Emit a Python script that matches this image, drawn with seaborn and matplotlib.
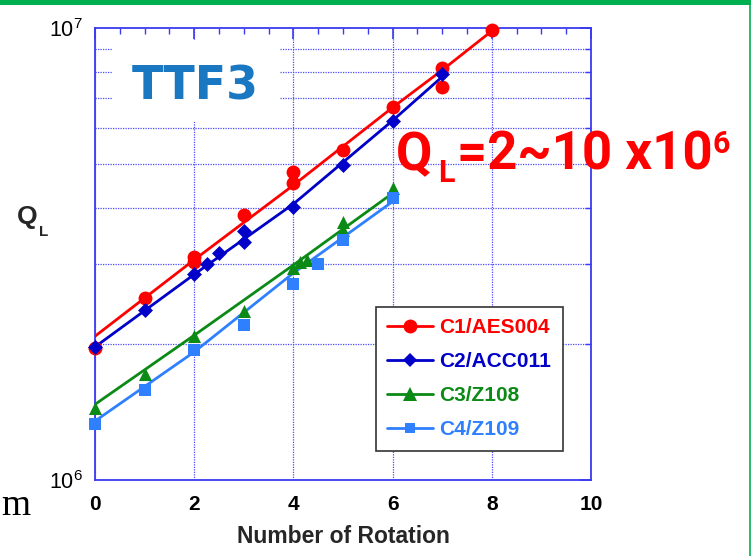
import numpy as np
import pandas as pd
import matplotlib
matplotlib.use("Agg")
import matplotlib.pyplot as plt
import seaborn as sns
from matplotlib.lines import Line2D
from matplotlib.patches import Rectangle
from matplotlib.ticker import FixedLocator, LogLocator, NullFormatter, MultipleLocator

# ---------------- data ----------------
series_names = ["C1/AES004", "C2/ACC011", "C3/Z108", "C4/Z109"]

c1_x = [0, 1, 2, 2, 3, 4, 4, 5, 6, 7, 7, 8]
c1_q = [1.96e6, 2.53e6, 3.12e6, 3.03e6, 3.85e6, 4.81e6, 4.55e6, 5.37e6, 6.70e6, 8.17e6, 7.41e6, 9.90e6]
c2_x = [0, 1, 2, 2.25, 2.5, 3, 3, 4, 5, 6, 7]
c2_q = [1.97e6, 2.38e6, 2.86e6, 3.00e6, 3.18e6, 3.55e6, 3.37e6, 4.02e6, 4.98e6, 6.24e6, 7.91e6]
c3_x = [0, 1, 2, 3, 4, 4.13, 4.27, 5, 5, 6]
c3_q = [1.44e6, 1.72e6, 2.08e6, 2.37e6, 2.95e6, 3.04e6, 3.07e6, 3.73e6, 3.57e6, 4.42e6]
c4_x = [0, 1, 2, 3, 4, 4.5, 5, 6]
c4_q = [1.33e6, 1.58e6, 1.94e6, 2.20e6, 2.72e6, 3.00e6, 3.40e6, 4.20e6]

# fitted trend lines
c1_fit_x = [0, 2, 4, 6, 7, 8]
c1_fit_q = [2.08e6, 3.07e6, 4.49e6, 6.67e6, 8.07e6, 9.85e6]
c2_fit_x = [0, 2, 4, 6, 7]
c2_fit_q = [1.97e6, 2.85e6, 4.08e6, 6.24e6, 7.80e6]
c3_fit_x = [0, 2, 4, 6]
c3_fit_q = [1.47e6, 2.09e6, 2.99e6, 4.31e6]
c4_fit_x = [0, 2, 4, 6]
c4_fit_q = [1.35e6, 1.92e6, 2.87e6, 4.13e6]

x_ticks = [0, 2, 4, 6, 8, 10]
y_ticks = [1e6, 1e7]

# ---------------- style ----------------
colors = ["#ff0000", "#0000c8", "#0b8a16", "#2f80ff"]
markers = ["o", "D", "^", "s"]
msizes = [100, 58, 88, 63]

sns.set_style("white")
plt.rcParams["font.family"] = ["Liberation Sans", "DejaVu Sans"]
plt.rcParams["mathtext.fontset"] = "custom"
plt.rcParams["mathtext.rm"] = "Liberation Sans"

W, H = 751, 556
fig = plt.figure(figsize=(W / 100, H / 100), dpi=100)
ax = fig.add_axes([95 / W, 76 / H, 496 / W, 452 / H])

pts_x = [c1_x, c2_x, c3_x, c4_x]
pts_q = [c1_q, c2_q, c3_q, c4_q]
fit_x = [c1_fit_x, c2_fit_x, c3_fit_x, c4_fit_x]
fit_q = [c1_fit_q, c2_fit_q, c3_fit_q, c4_fit_q]

for i, name in enumerate(series_names):
    df_fit = pd.DataFrame({"x": fit_x[i], "q": fit_q[i]})
    sns.lineplot(data=df_fit, x="x", y="q", color=colors[i], linewidth=2.0,
                 estimator=None, sort=False, ax=ax, zorder=3)
for i, name in enumerate(series_names):
    df_pts = pd.DataFrame({"x": pts_x[i], "q": pts_q[i]})
    sns.scatterplot(data=df_pts, x="x", y="q", color=colors[i], marker=markers[i],
                    s=msizes[i], linewidth=0, ax=ax, zorder=4, clip_on=False)

ax.set_yscale("log")
ax.set_xlim(0, 10)
ax.set_ylim(1e6, 1e7)

spine_c = "#3a3af0"
grid_c = "#4a4aff"
for sp in ax.spines.values():
    sp.set_color(spine_c)
    sp.set_linewidth(1.3)

ax.xaxis.set_major_locator(FixedLocator(x_ticks))
ax.xaxis.set_minor_locator(MultipleLocator(0.5))
ax.yaxis.set_major_locator(FixedLocator(y_ticks))
ax.yaxis.set_minor_locator(LogLocator(base=10, subs=np.arange(2, 10)))
ax.yaxis.set_minor_formatter(NullFormatter())

ax.tick_params(which="both", direction="in", top=True, right=True, colors=spine_c)
ax.tick_params(which="major", length=8, width=1.2)
ax.tick_params(which="minor", length=4, width=1.0)
ax.tick_params(axis="x", which="major", labelsize=15, labelcolor="black", pad=11)
ax.tick_params(axis="y", which="major", labelsize=15.5, labelcolor="black", pad=9)
for lab in ax.get_xticklabels():
    lab.set_fontweight("bold")

ax.set_axisbelow(True)
ax.grid(True, which="major", axis="x", color=grid_c, linestyle=(0, (1, 1)), linewidth=0.9)
ax.grid(True, which="minor", axis="y", color=grid_c, linestyle=(0, (1, 1)), linewidth=0.9)
ax.grid(False, which="major", axis="y")

ax.set_xlabel("Number of Rotation", fontsize=16.5, fontweight="bold", labelpad=8)
ax.set_ylabel("")

# white box behind TTF3
ax.add_patch(Rectangle((113 / W, 1 - 122 / H), 167 / W, 82 / H, transform=fig.transFigure,
                       facecolor="white", edgecolor="none", zorder=1))
fig.text(195 / W, 1 - 87 / H, "TTF3", ha="center", va="center", fontsize=33,
         fontweight="bold", color="#1a78c2", family=["DejaVu Sans"])

# Q_L y label
fig.text(27 / W, 1 - 217 / H, "Q", ha="center", va="center", fontsize=19, fontweight="bold")
fig.text(44 / W, 1 - 232 / H, "L", ha="center", va="center", fontsize=11, fontweight="bold")

# red annotation
red = "#ff0000"
fig.text(396 / W, 1 - 170 / H, "Q", ha="left", va="baseline", fontsize=38,
         fontweight="bold", color=red, family=["Roboto", "DejaVu Sans"])
fig.text(438 / W, 1 - 182 / H, "L", ha="left", va="baseline", fontsize=22,
         fontweight="bold", color=red, family=["Roboto", "DejaVu Sans"])
fig.text(457 / W, 1 - 170 / H, "=2~10 x10", ha="left", va="baseline", fontsize=38,
         fontweight="bold", color=red, family=["Roboto", "DejaVu Sans"])
fig.text(713 / W, 1 - 153 / H, "6", ha="left", va="baseline", fontsize=22,
         fontweight="bold", color=red, family=["Roboto", "DejaVu Sans"])

# legend
handles = [Line2D([0], [0], color=colors[i], marker=markers[i], linewidth=2.0,
                  markersize=[10, 7.6, 9.4, 7.9][i], markeredgewidth=0)
           for i in range(4)]
leg = ax.legend(handles, series_names, loc="upper left",
                bbox_to_anchor=((376 - 95) / 496, (480 - 307) / 452),
                fontsize=15, frameon=True, fancybox=False, framealpha=1,
                edgecolor="#333333", handlelength=2.2, handletextpad=0.3,
                labelspacing=0.72, borderpad=0.55, borderaxespad=0)
leg.get_frame().set_linewidth(1.2)
for t, c in zip(leg.get_texts(), colors):
    t.set_color(c)
    t.set_fontweight("bold")
leg.set_zorder(6)

# slide decorations
fig.add_artist(Rectangle((0, 1 - 5 / H), 1, 5 / H, transform=fig.transFigure,
                         facecolor="#00b050", edgecolor="none"))
fig.add_artist(Line2D([749.5 / W, 749.5 / W], [0, 1], transform=fig.transFigure,
                      color="#00b050", linewidth=1.2))
fig.text(1 / W, 1 - 515 / H, "m", ha="left", va="baseline", fontsize=27,
         family=["Liberation Serif"], color="black")

fig.savefig("out.png", dpi=100)
